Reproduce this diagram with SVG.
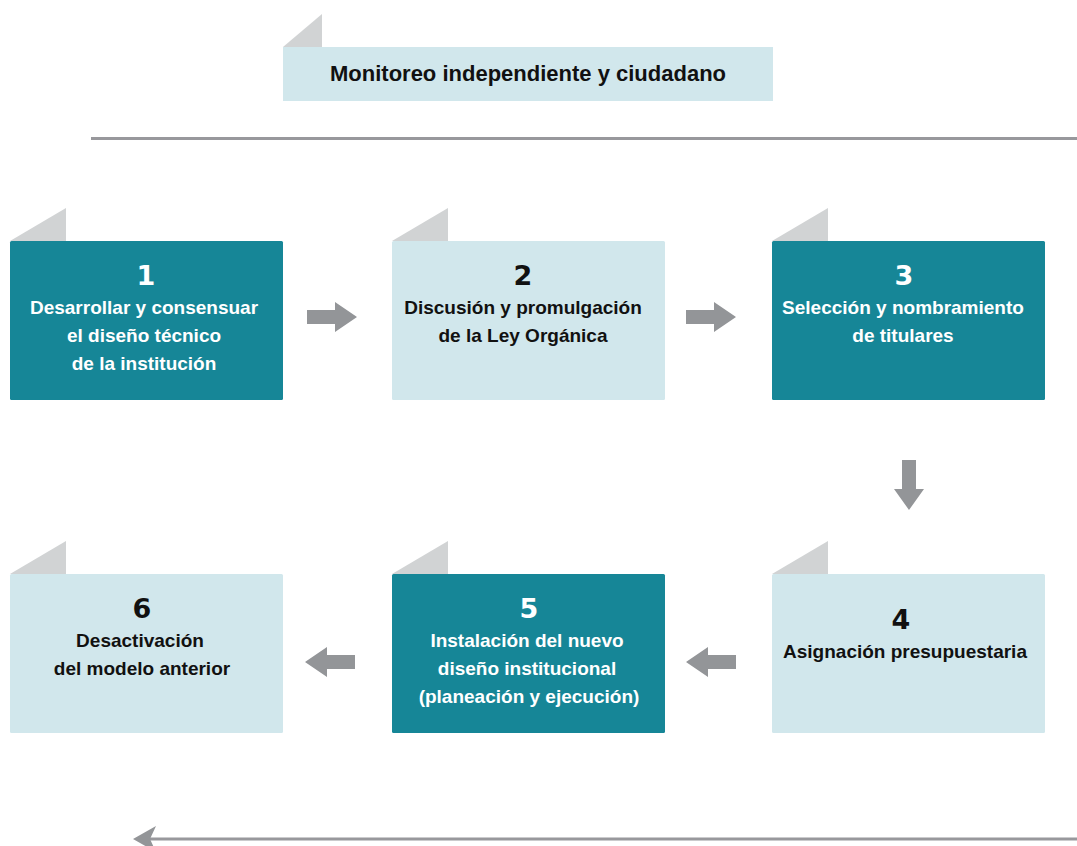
<svg xmlns="http://www.w3.org/2000/svg" width="1077" height="846" viewBox="0 0 1077 846">
  <style>
    .dark { fill: #168697; }
    .light { fill: #d1e7ec; }
    .tab { fill: #d1d3d4; }
    .arrow { fill: #939598; }
    .rule { stroke: #98989c; stroke-width: 3; fill: none; }
    text { font-family: "Liberation Sans", Arial, sans-serif; font-weight: bold; text-anchor: middle; }
    .num { font-size: 27px; font-family: "DejaVu Sans", "Liberation Sans", sans-serif; font-weight: 900; }
    .lbl { font-size: 19px; }
    .onDark { fill: #ffffff; }
    .onLight { fill: #111111; }
  </style>
  <defs>
    <path id="arrowR" d="M0,-7 H28 V-15 L50,0 L28,15 V7 H0 Z"/>
    <path id="arrowL" d="M0,-7 H-28 V-15 L-50,0 L-28,15 V7 H0 Z"/>
  </defs>

  <!-- header banner -->
  <g id="header">
    <polygon class="tab" points="283,47 322,14 322,47"/>
    <rect class="light" x="283" y="47" width="490" height="54"/>
    <text class="lbl onLight" x="528" y="81" style="font-size:22px">Monitoreo independiente y ciudadano</text>
  </g>

  <!-- step boxes -->
  <g id="step1">
    <polygon class="tab" points="10,241 66,208 66,241"/>
    <rect class="dark" x="10" y="241" width="273" height="159" rx="1.5"/>
    <text class="num onDark" x="146" y="285">1</text>
    <text class="lbl onDark" x="144" y="314">Desarrollar y consensuar</text>
    <text class="lbl onDark" x="144" y="342">el diseño técnico</text>
    <text class="lbl onDark" x="144" y="370">de la institución</text>
  </g>
  <g id="step2">
    <polygon class="tab" points="392,241 448,208 448,241"/>
    <rect class="light" x="392" y="241" width="273" height="159" rx="1.5"/>
    <text class="num onLight" x="523" y="285">2</text>
    <text class="lbl onLight" x="523" y="314">Discusión y promulgación</text>
    <text class="lbl onLight" x="523" y="342">de la Ley Orgánica</text>
  </g>
  <g id="step3">
    <polygon class="tab" points="772,241 828,208 828,241"/>
    <rect class="dark" x="772" y="241" width="273" height="159" rx="1.5"/>
    <text class="num onDark" x="904" y="285">3</text>
    <text class="lbl onDark" x="903" y="314">Selección y nombramiento</text>
    <text class="lbl onDark" x="903" y="342">de titulares</text>
  </g>
  <g id="step4">
    <polygon class="tab" points="772,574 828,541 828,574"/>
    <rect class="light" x="772" y="574" width="273" height="159" rx="1.5"/>
    <text class="num onLight" x="901" y="629">4</text>
    <text class="lbl onLight" x="905" y="658">Asignación presupuestaria</text>
  </g>
  <g id="step5">
    <polygon class="tab" points="392,574 448,541 448,574"/>
    <rect class="dark" x="392" y="574" width="273" height="159" rx="1.5"/>
    <text class="num onDark" x="529" y="618">5</text>
    <text class="lbl onDark" x="527" y="647">Instalación del nuevo</text>
    <text class="lbl onDark" x="527" y="675">diseño institucional</text>
    <text class="lbl onDark" x="529" y="703">(planeación y ejecución)</text>
  </g>
  <g id="step6">
    <polygon class="tab" points="10,574 66,541 66,574"/>
    <rect class="light" x="10" y="574" width="273" height="159" rx="1.5"/>
    <text class="num onLight" x="142" y="618">6</text>
    <text class="lbl onLight" x="140" y="647">Desactivación</text>
    <text class="lbl onLight" x="142" y="675">del modelo anterior</text>
  </g>

  <!-- connectors -->
  <g id="connectors">
    <line class="rule" x1="91" y1="138.5" x2="1077" y2="138.5"/>
    <use href="#arrowR" class="arrow" x="307" y="317"/>
    <use href="#arrowR" class="arrow" x="686" y="317"/>
    <path class="arrow" d="M902,460 H916 V489 H924 L909,510 L894,489 H902 Z"/>
    <use href="#arrowL" class="arrow" x="736" y="662"/>
    <use href="#arrowL" class="arrow" x="355" y="662"/>
    <line class="rule" x1="150" y1="839" x2="1077" y2="839"/>
    <path class="arrow" d="M133,839 L156,826 L150,839 L156,852 Z"/>
  </g>
</svg>
